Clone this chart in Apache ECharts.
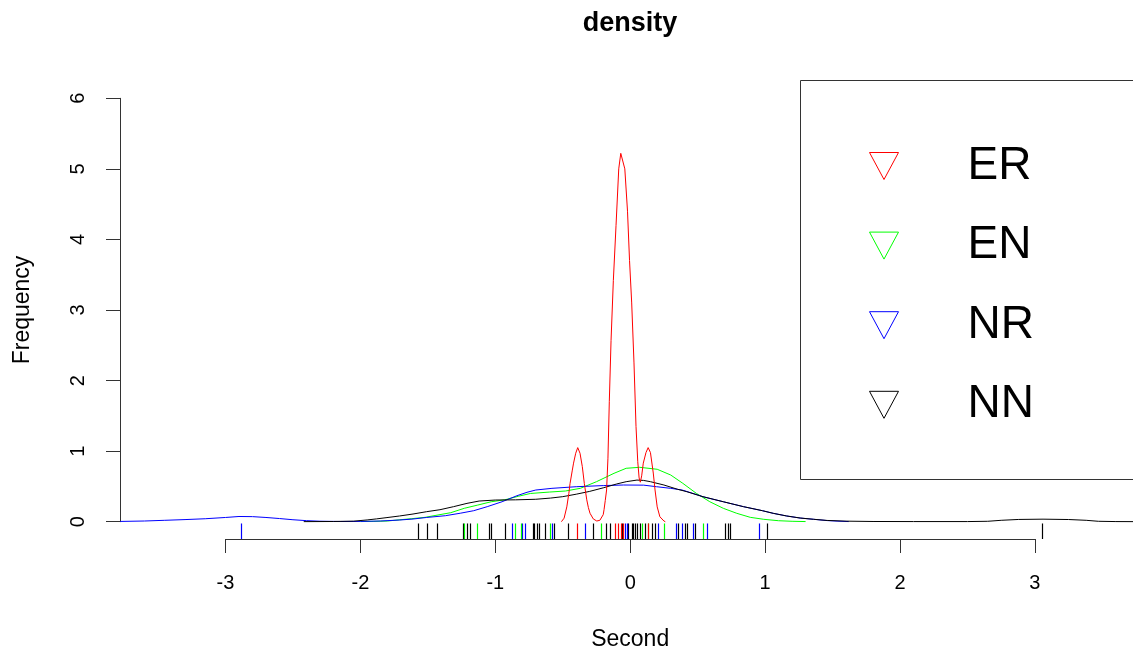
<!DOCTYPE html>
<html><head><meta charset="utf-8">
<script src="https://cdn.jsdelivr.net/npm/echarts@6/dist/echarts.min.js"></script>
<style>html,body{margin:0;padding:0;background:#fff}#c{width:1133px;height:653px}</style>
</head><body><div id="c"></div><script>
// ---- data ----
const seriesNames = ['ER', 'EN', 'NR', 'NN'];
const xTicks = [-3, -2, -1, 0, 1, 2, 3];
const yTicks = [0, 1, 2, 3, 4, 5, 6];

const erX = [-0.51,-0.49,-0.47,-0.455,-0.446,-0.43,-0.42,-0.404,-0.389,-0.372,-0.355,-0.34,-0.322,-0.31,-0.298,-0.274,-0.248,-0.225,-0.211,-0.2,-0.194,-0.185,-0.175,-0.165,-0.155,-0.142,-0.125,-0.105,-0.085,-0.07,-0.058,-0.04,-0.02,-0.005,0.011,0.028,0.043,0.056,0.066,0.075,0.085,0.097,0.117,0.133,0.15,0.171,0.184,0.2,0.22,0.25,0.26];
const erY = [0.0,0.05,0.21,0.4,0.54,0.72,0.83,0.97,1.05,0.97,0.78,0.54,0.31,0.2,0.12,0.04,0.01,0.02,0.04,0.1,0.17,0.3,0.45,0.9,1.7,2.57,3.42,4.2,5.0,5.22,5.22,5.0,4.4,3.7,3.1,2.25,1.35,0.85,0.62,0.56,0.65,0.83,0.98,1.05,0.98,0.69,0.45,0.21,0.07,0.01,0.0];

const enX = [-2.0,-1.9,-1.8,-1.72,-1.62,-1.52,-1.44,-1.33,-1.23,-1.13,-1.03,-0.93,-0.83,-0.74,-0.6,-0.48,-0.37,-0.25,-0.12,-0.03,0.07,0.2,0.3,0.39,0.49,0.59,0.69,0.79,0.89,0.99,1.1,1.2,1.3];
const enY = [0.002,0.005,0.01,0.025,0.043,0.062,0.09,0.128,0.19,0.236,0.283,0.31,0.36,0.4,0.42,0.435,0.473,0.567,0.686,0.757,0.771,0.743,0.662,0.544,0.402,0.283,0.19,0.119,0.062,0.034,0.014,0.006,0.002];

const nrX = [-3.78,-3.6,-3.45,-3.3,-3.15,-3.0,-2.9,-2.8,-2.7,-2.6,-2.5,-2.4,-2.3,-2.15,-2.0,-1.85,-1.71,-1.61,-1.51,-1.37,-1.26,-1.16,-1.06,-0.95,-0.84,-0.765,-0.7,-0.58,-0.4,-0.2,-0.05,0.1,0.195,0.3,0.385,0.45,0.54,0.69,0.84,0.98,1.06,1.16,1.26,1.36,1.46,1.54,1.62];
const nrY = [0.004,0.01,0.02,0.03,0.042,0.06,0.074,0.072,0.06,0.045,0.028,0.015,0.007,0.003,0.004,0.01,0.024,0.038,0.06,0.085,0.12,0.156,0.213,0.283,0.368,0.417,0.449,0.473,0.496,0.512,0.52,0.518,0.496,0.473,0.449,0.41,0.354,0.283,0.213,0.156,0.119,0.081,0.052,0.034,0.016,0.008,0.002];

const nnX = [-2.42,-2.2,-2.05,-1.95,-1.88,-1.81,-1.71,-1.61,-1.51,-1.41,-1.31,-1.21,-1.12,-1.0,-0.85,-0.7,-0.59,-0.5,-0.4,-0.3,-0.2,-0.1,-0.03,0.05,0.1,0.15,0.25,0.35,0.42,0.54,0.69,0.84,0.98,1.06,1.16,1.26,1.36,1.46,1.6,1.8,2.1,2.5,2.65,2.75,2.88,3.06,3.25,3.38,3.47,3.6,3.73];
const nnY = [0.001,0.003,0.008,0.025,0.04,0.057,0.081,0.109,0.142,0.17,0.213,0.26,0.293,0.307,0.31,0.318,0.335,0.355,0.39,0.43,0.48,0.535,0.567,0.59,0.585,0.567,0.52,0.46,0.425,0.354,0.283,0.213,0.156,0.119,0.081,0.052,0.034,0.018,0.008,0.003,0.002,0.002,0.006,0.02,0.032,0.036,0.031,0.02,0.006,0.002,0.001];

// rug (observation positions)
const erRug = [-0.397,-0.113,-0.088,-0.07,-0.055,0.134];
const enRug = [-1.232,-1.138,-0.854,-0.812,-0.595,-0.216,0.085,0.134,0.253,0.537];
const nrRug = [-2.887,-0.878,-0.800,-0.780,-0.582,-0.335,-0.039,-0.024,0.208,0.340,0.382,0.463,0.567,0.957];
const nnRug = [-1.571,-1.509,-1.430,-1.237,-1.212,-1.188,-1.044,-1.032,-0.928,-0.723,-0.713,-0.693,-0.674,-0.632,-0.565,-0.459,-0.274,-0.179,-0.150,-0.063,-0.014,0.011,0.023,0.036,0.048,0.073,0.110,0.159,0.184,0.357,0.406,0.423,0.480,0.703,0.722,0.740,1.012,3.053];

// ---- styling / layout ----
const COLORS = {ER:'#ff0000', EN:'#00ff00', NR:'#0000ff', NN:'#000000'};
const FONT = '"Liberation Sans", Arial, sans-serif';
const AX = '#333333';
const X_MIN = -3.782, X_MAX = 3.727, Y_MIN = -0.245, Y_MAX = 6.245;
const RUG_BASE = Y_MIN, RUG_TOP = -0.025;

const pairs = (xs, ys) => xs.map((x, i) => [x, ys[i]]);

function lineSeries(name, xs, ys, z) {
  return {type:'line', name, xAxisIndex:0, yAxisIndex:0, data:pairs(xs, ys),
    showSymbol:false, symbol:'none', silent:true, z,
    lineStyle:{color:COLORS[name], width:1}, itemStyle:{color:COLORS[name]}};
}
function rugSeries(name, vals, z) {
  const color = COLORS[name];
  return {type:'custom', name:name + ' rug', xAxisIndex:0, yAxisIndex:0, silent:true, z,
    data: vals.map(v => [v, RUG_BASE]), encode:{x:0, y:1},
    renderItem(params, api) {
      const x = api.value(0);
      const a = api.coord([x, RUG_BASE]);
      const b = api.coord([x, RUG_TOP]);
      const px = Math.round(a[0]) + 0.5;
      return {type:'line', shape:{x1:px, y1:a[1], x2:px, y2:b[1]}, style:{stroke:color, lineWidth:1.2}};
    }};
}

const chart = echarts.init(document.getElementById('c'));
chart.setOption({
  animation:false,
  backgroundColor:'#ffffff',
  title:{text:'density', left:630, top:10, padding:0, textAlign:'center',
    textStyle:{fontFamily:FONT, fontSize:27, fontWeight:'bold', color:'#000'}},
  grid:[
    {left:120, right:0, top:81, bottom:114},
    {left:225.5, right:98.1, top:538, height:1},
    {left:120, width:1, top:98.3, bottom:131.3}
  ],
  xAxis:[
    {gridIndex:0, type:'value', min:X_MIN, max:X_MAX, show:false},
    {gridIndex:1, type:'value', min:xTicks[0], max:xTicks[xTicks.length-1], interval:1, position:'bottom',
      axisLine:{show:true, lineStyle:{color:AX, width:1}},
      axisTick:{show:true, length:14, lineStyle:{color:AX, width:1}},
      axisLabel:{fontFamily:FONT, fontSize:20, color:'#000', margin:34, showMinLabel:true, showMaxLabel:true},
      splitLine:{show:false},
      name:'Second', nameLocation:'middle', nameGap:89,
      nameTextStyle:{fontFamily:FONT, fontSize:23, color:'#000'}},
    {gridIndex:2, type:'value', min:0, max:1, show:false}
  ],
  yAxis:[
    {gridIndex:0, type:'value', min:Y_MIN, max:Y_MAX, show:false},
    {gridIndex:1, type:'value', min:0, max:1, show:false},
    {gridIndex:2, type:'value', min:yTicks[0], max:yTicks[yTicks.length-1], interval:1, position:'left',
      axisLine:{show:true, lineStyle:{color:AX, width:1}},
      axisTick:{show:true, length:14, lineStyle:{color:AX, width:1}},
      axisLabel:{fontFamily:FONT, fontSize:20, color:'#000', margin:32, rotate:90, showMinLabel:true, showMaxLabel:true},
      splitLine:{show:false},
      name:'Frequency', nameLocation:'middle', nameGap:86,
      nameTextStyle:{fontFamily:FONT, fontSize:23, color:'#000'}}
  ],
  legend:{
    orient:'vertical', left:869, top:142, padding:0, itemGap:31.6,
    itemWidth:29, itemHeight:27, selectedMode:false,
    icon:'path://M0,0L29,0L14.5,27Z',
    textStyle:{fontFamily:FONT, fontSize:46, lineHeight:48, color:'#000', padding:[0,0,0,64]},
    data: seriesNames.map(n => ({name:n, itemStyle:{color:'rgba(0,0,0,0)', borderColor:COLORS[n], borderWidth:1}}))
  },
  graphic:[
    {type:'rect', shape:{x:800.5, y:80.5, width:420, height:399}, style:{fill:'none', stroke:AX, lineWidth:1}, z:1, silent:true}
  ],
  series:[
    lineSeries('EN', enX, enY, 2),
    lineSeries('NR', nrX, nrY, 3),
    lineSeries('NN', nnX, nnY, 4),
    lineSeries('ER', erX, erY, 5),
    rugSeries('NN', nnRug, 6),
    rugSeries('NR', nrRug, 7),
    rugSeries('EN', enRug, 8),
    rugSeries('ER', erRug, 9)
  ]
});
</script></body></html>
